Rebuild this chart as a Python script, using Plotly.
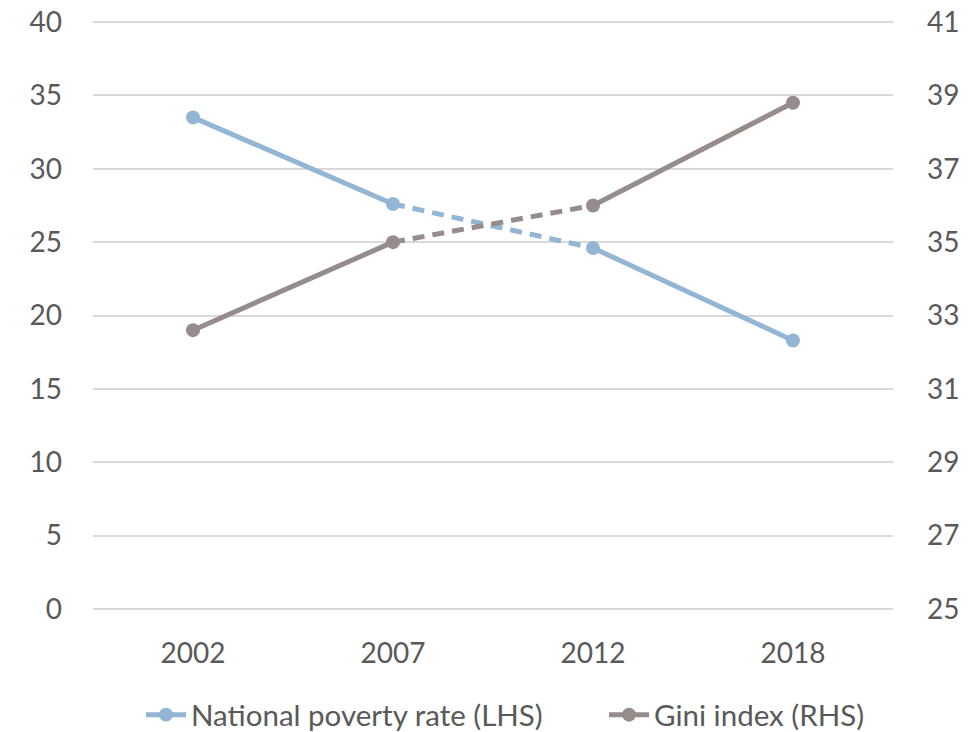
import plotly.graph_objects as go

years = ["2002", "2007", "2012", "2018"]
poverty = [33.5, 27.6, 24.6, 18.3]
gini = [32.6, 35.0, 36.0, 38.8]
left_ticks = [0, 5, 10, 15, 20, 25, 30, 35, 40]
right_ticks = [25, 27, 29, 31, 33, 35, 37, 39, 41]

BLUE = "#93B6D5"
GRAY = "#968C8C"
TXT = "#595959"
FONT = "Lato"

# plot area geometry (pixels); a small padding keeps edge gridlines visible
TOP, BOTTOM, LEFT, RIGHT = 22, 123, 93, 80
PAD = 2
PLOT_H = 732 - TOP - BOTTOM
l_lo, l_hi = left_ticks[0], left_ticks[-1]
r_lo, r_hi = right_ticks[0], right_ticks[-1]
l_pad = (l_hi - l_lo) / PLOT_H * PAD
r_pad = (r_hi - r_lo) / PLOT_H * PAD

fig = go.Figure()

def add_series(vals, name, color, yaxis, legend):
    # solid 2002-2007
    fig.add_trace(go.Scatter(x=years[0:2], y=vals[0:2], mode="lines+markers", name=name,
                             line=dict(color=color, width=5), marker=dict(size=14, color=color),
                             yaxis=yaxis, legendgroup=name, showlegend=True, legend=legend))
    # dashed 2007-2012
    fig.add_trace(go.Scatter(x=years[1:3], y=vals[1:3], mode="lines",
                             line=dict(color=color, width=5, dash="12px,8px"),
                             yaxis=yaxis, legendgroup=name, showlegend=False))
    # solid 2012-2018
    fig.add_trace(go.Scatter(x=years[2:4], y=vals[2:4], mode="lines+markers",
                             line=dict(color=color, width=5), marker=dict(size=14, color=color),
                             yaxis=yaxis, legendgroup=name, showlegend=False))

add_series(poverty, "National poverty rate (LHS)", BLUE, "y", "legend")
add_series(gini, "Gini index (RHS)", GRAY, "y2", "legend2")

leg_common = dict(orientation="h", xanchor="left", xref="container",
                  y=1 - 715 / 732, yanchor="middle", yref="container",
                  font=dict(size=29.5, color=TXT), itemwidth=40, bgcolor="rgba(0,0,0,0)")

fig.update_layout(
    width=973, height=732,
    margin=dict(l=LEFT, r=RIGHT, t=TOP - PAD, b=BOTTOM - PAD, autoexpand=False),
    paper_bgcolor="white", plot_bgcolor="white",
    font=dict(family=FONT, size=28, color=TXT),
    showlegend=True,
    legend=dict(x=141 / 973, **leg_common),
    legend2=dict(x=604 / 973, **leg_common),
    xaxis=dict(type="category", categoryorder="array", categoryarray=years,
               range=[-0.5, 3.5], showgrid=False, zeroline=False, showline=False,
               ticks="", ticklabelstandoff=25 - PAD, automargin=False, ticklabeloverflow="allow"),
    yaxis=dict(range=[l_lo - l_pad, l_hi + l_pad], tickvals=left_ticks, showgrid=True,
               gridcolor="#D9D9D9", gridwidth=1.5, zeroline=False, showline=False, ticks="",
               ticklabelstandoff=30, automargin=False, ticklabeloverflow="allow"),
    yaxis2=dict(range=[r_lo - r_pad, r_hi + r_pad], tickvals=right_ticks, overlaying="y",
                side="right", showgrid=False, zeroline=False, showline=False, ticks="",
                ticklabelstandoff=33, automargin=False, ticklabeloverflow="allow"),
)

fig.write_html("out.html", config={"displayModeBar": False},
               post_script="document.body.style.margin='0';")
